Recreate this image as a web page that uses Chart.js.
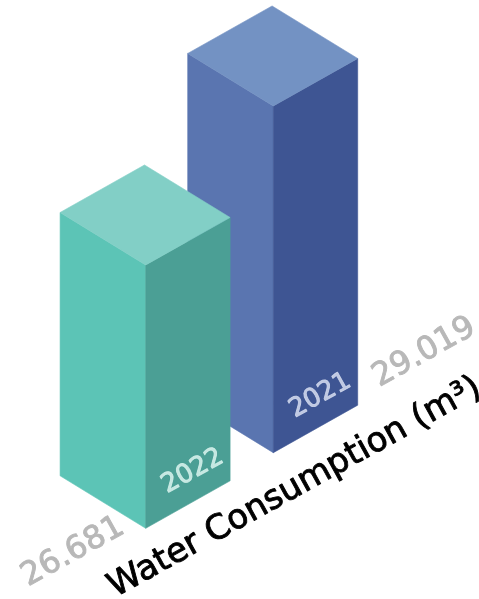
<!DOCTYPE html>
<html><head><meta charset="utf-8">
<script src="https://cdn.jsdelivr.net/npm/chart.js@4/dist/chart.umd.min.js"></script>
<style>html,body{margin:0;padding:0;background:#fff;overflow:hidden}#wrap{width:479px;height:599px;position:relative}</style>
</head><body><div id="wrap"><canvas id="c" width="479" height="599"></canvas></div>
<script>
// ---- data ----
const years = ['2022', '2021'];
const consumption = [26.681, 29.019];
const valueLabels = ['26.681', '29.019'];
const axisTitle = 'Water Consumption (m³)';

// ---- styles / layout ----
const topColors = ['#82cfc6', '#7392c3'];
const leftColors = ['#5cc4b6', '#5a75b0'];
const rightColors = ['#4b9f95', '#3e5593'];
const yearColors = ['rgba(210,238,233,0.9)', 'rgba(205,213,235,0.9)'];
const FONT = '"DejaVu Sans", sans-serif';
const iso = {
  origin: {x: 145.7, y: 528.3},
  step: {x: 127.6, y: -75.6},
  L: {x: -85.6, y: -52.5},
  R: {x: 84.4, y: -47.5},
  yearOffset: {x: 47, y: -57},
  valuePos: [{x: 73, y: 552}, {x: 424.2, y: 352.5}],
  titlePos: {x: 294.8, y: 487.9}
};
const ANG = -29 * Math.PI / 180;

function poly(ctx, pts, color) {
  ctx.beginPath();
  ctx.moveTo(pts[0].x, pts[0].y);
  for (let k = 1; k < pts.length; k++) ctx.lineTo(pts[k].x, pts[k].y);
  ctx.closePath();
  ctx.fillStyle = color;
  ctx.strokeStyle = color;
  ctx.lineWidth = 0.6;
  ctx.fill();
  ctx.stroke();
}
const add = (a, b) => ({x: a.x + b.x, y: a.y + b.y});

function rotText(ctx, txt, p, font, color, stroke) {
  ctx.save();
  ctx.translate(p.x, p.y);
  ctx.rotate(ANG);
  ctx.font = font;
  ctx.fillStyle = color;
  ctx.textAlign = 'center';
  ctx.textBaseline = 'middle';
  ctx.fillText(txt, 0, 0);
  if (stroke) {
    ctx.strokeStyle = color;
    ctx.lineWidth = stroke;
    ctx.lineJoin = 'round';
    ctx.strokeText(txt, 0, 0);
  }
  ctx.restore();
}

const isoPlugin = {
  id: 'isoBars',
  afterDatasetsDraw(chart) {
    const ctx = chart.ctx;
    const yScale = chart.scales.y;
    const basePx = yScale.getPixelForValue(yScale.min);
    const meta = chart.getDatasetMeta(0);
    const order = meta.data.map((_, i) => i).reverse();
    ctx.save();
    for (const i of order) {
      const bar = meta.data[i];
      const h = basePx - bar.y;
      const F = {x: iso.origin.x + i * iso.step.x, y: iso.origin.y + i * iso.step.y};
      const T = {x: F.x, y: F.y - h};
      poly(ctx, [T, add(T, iso.L), add(F, iso.L), F], leftColors[i]);
      poly(ctx, [T, add(T, iso.R), add(F, iso.R), F], rightColors[i]);
      poly(ctx, [T, add(T, iso.L), add(add(T, iso.L), iso.R), add(T, iso.R)], topColors[i]);
      rotText(ctx, chart.data.labels[i], add(F, iso.yearOffset), '26px ' + FONT, yearColors[i], 0.9);
    }
    valueLabels.forEach((t, i) => rotText(ctx, t, iso.valuePos[i], '32px ' + FONT, '#b8b8b8', 0.9));
    rotText(ctx, axisTitle, iso.titlePos, '34px ' + FONT, '#000', 0.9);
    ctx.restore();
  }
};

new Chart(document.getElementById('c'), {
  type: 'bar',
  data: {
    labels: years,
    datasets: [{data: consumption, backgroundColor: 'rgba(0,0,0,0)', borderWidth: 0}]
  },
  options: {
    responsive: false,
    animation: false,
    layout: {padding: 0},
    scales: {
      x: {display: false},
      y: {display: false, min: 19.3, max: 36.09}
    },
    plugins: {legend: {display: false}, tooltip: {enabled: false}}
  },
  plugins: [isoPlugin]
});
</script></body></html>
